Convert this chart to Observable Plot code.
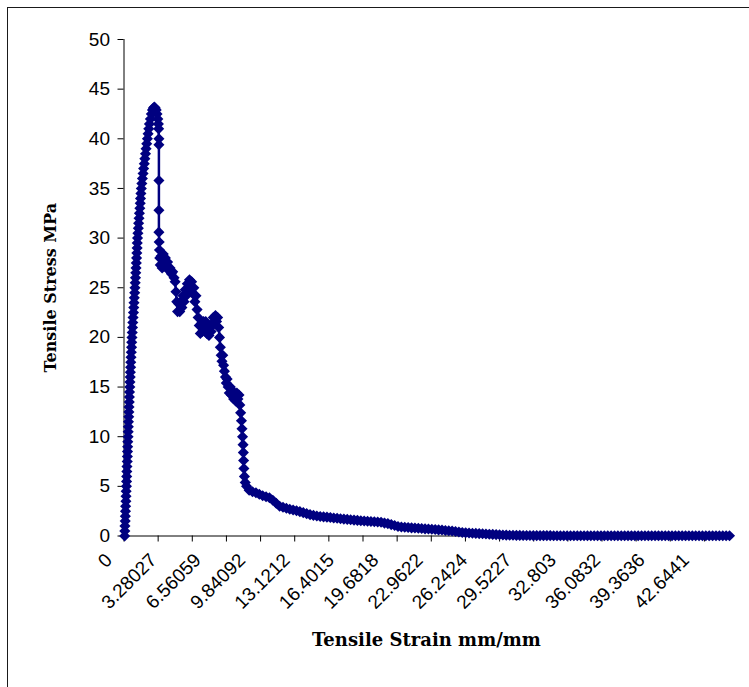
<!DOCTYPE html>
<html>
<head>
<meta charset="utf-8">
<script src="https://cdn.jsdelivr.net/npm/d3@7"></script>
<script src="https://cdn.jsdelivr.net/npm/@observablehq/plot@0.6"></script>
<style>
  html, body { margin: 0; padding: 0; background: #fff; }
  #wrap { position: relative; width: 749px; height: 687px; overflow: hidden; background: #fff; }
  #border { position: absolute; left: 7px; top: 7px; width: 900px; height: 900px; border: 1.5px solid #1a1a1a; box-sizing: border-box; }
  #wrap svg { position: absolute; left: 0; top: 0; }
</style>
</head>
<body>
<div id="wrap"><div id="border"></div></div>
<script>
// ---- data: [strain mm/mm, stress MPa] ----
const rise = [
  [0.05,0.0],[0.06,0.5],[0.07,1.0],[0.09,1.5],[0.10,2.0],[0.11,2.5],[0.12,3.0],[0.14,3.5],
  [0.15,4.0],[0.16,4.5],[0.18,5.0],[0.19,5.5],[0.20,6.0],[0.21,6.5],[0.22,7.0],[0.24,7.5],
  [0.25,8.0],[0.26,8.5],[0.27,9.0],[0.28,9.5],[0.30,10.0],[0.31,10.5],[0.32,11.0],[0.33,11.5],
  [0.35,12.0],[0.36,12.5],[0.37,13.0],[0.39,13.5],[0.40,14.0],[0.41,14.5],[0.43,15.0],[0.44,15.5],
  [0.46,16.0],[0.47,16.5],[0.49,17.0],[0.50,17.5],[0.52,18.0],[0.54,18.5],[0.56,19.0],[0.57,19.5],
  [0.59,20.0],[0.61,20.5],[0.63,21.0],[0.65,21.5],[0.67,22.0],[0.70,22.5],[0.72,23.0],[0.74,23.5],
  [0.76,24.0],[0.79,24.5],[0.81,25.0],[0.83,25.5],[0.85,26.0],[0.87,26.5],[0.89,27.0],[0.91,27.5],
  [0.93,28.0],[0.95,28.5],[0.97,29.0],[0.98,29.5],[1.00,30.0],[1.03,30.5],[1.06,31.0],[1.08,31.5],
  [1.11,32.0],[1.14,32.5],[1.17,33.0],[1.20,33.5],[1.22,34.0],[1.25,34.5],[1.28,35.0],[1.32,35.5],
  [1.36,36.0],[1.41,36.5],[1.45,37.0],[1.50,37.5],[1.54,38.0],[1.59,38.5],[1.63,39.0],[1.68,39.5],
  [1.73,40.0],[1.78,40.5],[1.83,41.0],[1.88,41.5],[1.95,42.0],[2.02,42.5],[2.10,42.9],[2.17,43.1],
  [2.24,43.2],[2.31,43.1],[2.38,42.9],[2.44,42.5],[2.50,42.0],[2.54,41.5],[2.56,41.0],[2.58,40.0],
  [2.58,39.4]
];
const softening = [
  [2.58,35.8],[2.58,32.8],[2.58,30.6],[2.60,29.6],[2.62,28.8],[2.64,28.0],[2.68,27.3],[2.75,28.2],
  [2.82,27.0],[2.90,28.4],[2.98,27.2],[3.06,28.0],[3.14,27.0],[3.22,27.6],[3.30,26.8],[3.40,27.0],
  [3.50,26.4],[3.60,26.6],[3.70,26.0],[3.78,25.6],[3.84,24.6],[3.90,23.6],[3.96,22.6],[4.04,23.4],
  [4.12,22.6],[4.20,23.6],[4.28,23.0],[4.36,24.2],[4.44,23.6],[4.52,24.8],[4.60,24.2],[4.68,25.4],
  [4.76,24.6],[4.84,25.8],[4.92,24.8],[5.00,25.6],[5.08,24.4],[5.16,25.0],[5.24,23.6],[5.32,24.2],
  [5.40,22.8],[5.48,22.0],[5.56,21.2],[5.64,20.4],[5.72,21.4],[5.80,20.6],[5.88,21.6],[5.96,20.8],
  [6.04,21.6],[6.12,20.4],[6.20,21.2],[6.28,20.2],[6.36,21.0],[6.44,20.6],[6.52,21.4],[6.60,22.0],
  [6.68,21.4],[6.76,22.2],[6.84,21.6],[6.92,22.0],[7.00,21.0],[7.06,20.0],[7.12,19.0],[7.18,18.2],
  [7.24,17.6],[7.30,18.2],[7.36,17.2],[7.42,16.6],[7.50,16.0],[7.56,15.4],[7.62,15.8],[7.70,15.0],
  [7.78,14.4],[7.86,15.0],[7.94,14.2],[8.02,14.6],[8.10,13.8],[8.18,14.4],[8.26,13.6],[8.34,14.4],
  [8.42,13.8],[8.50,14.2],[8.56,13.2],[8.62,12.4],[8.68,11.6],[8.72,10.8],[8.76,10.0],[8.80,9.2],
  [8.82,8.4],[8.84,7.6],[8.86,6.8],[8.90,6.0],[8.96,5.4],[9.06,5.0]
];
const tail = [
  [9.25,4.6],[9.5,4.45],[9.75,4.35],[10,4.2],[10.25,4.05],[10.5,3.95],[10.75,3.85],[11,3.6],
  [11.25,3.3],[11.5,3.0],[11.75,2.9],[12,2.8],[12.25,2.7],[12.5,2.62],[12.75,2.55],[13,2.45],
  [13.25,2.35],[13.5,2.25],[13.75,2.15],[14,2.08],[14.25,2.02],[14.5,1.97],[14.75,1.93],[15,1.9],
  [15.25,1.86],[15.5,1.82],[15.75,1.78],[16,1.74],[16.25,1.7],[16.5,1.67],[16.75,1.64],[17,1.6],
  [17.25,1.57],[17.5,1.54],[17.75,1.51],[18,1.48],[18.25,1.46],[18.5,1.43],[18.75,1.41],[19,1.38],
  [19.25,1.3],[19.5,1.25],[19.75,1.15],[20,1.05],[20.25,0.95],[20.5,0.9],[20.75,0.88],[21,0.85],
  [21.25,0.82],[21.5,0.8],[21.75,0.78],[22,0.75],[22.25,0.72],[22.5,0.7],[22.75,0.68],[23,0.65],
  [23.25,0.62],[23.5,0.6],[23.75,0.56],[24,0.53],[24.25,0.5],[24.5,0.45],[24.75,0.4],[25,0.36],
  [25.25,0.33],[25.5,0.3],[25.75,0.28],[26,0.26],[26.25,0.24],[26.5,0.22],[26.75,0.2],[27,0.18],
  [27.25,0.16],[27.5,0.14],[27.75,0.12],[28,0.1],[28.25,0.09],[28.5,0.08],[28.75,0.07],[29,0.06],
  [29.25,0.06],[29.5,0.05],[29.75,0.05],[30,0.05],[30.25,0.04],[30.5,0.04],[30.75,0.04],[31,0.04],
  [31.25,0.04],[31.5,0.04],[31.75,0.03],[32,0.03],[32.25,0.03],[32.5,0.03],[32.75,0.03],[33,0.03],
  [33.25,0.03],[33.5,0.03],[33.75,0.03],[34,0.03],[34.25,0.03],[34.5,0.03],[34.75,0.03],[35,0.03],
  [35.25,0.03],[35.5,0.03],[35.75,0.03],[36,0.03],[36.25,0.03],[36.5,0.03],[36.75,0.03],[37,0.03],
  [37.25,0.03],[37.5,0.03],[37.75,0.03],[38,0.03],[38.25,0.03],[38.5,0.03],[38.75,0.03],[39,0.03],
  [39.25,0.03],[39.5,0.03],[39.75,0.03],[40,0.03],[40.25,0.03],[40.5,0.03],[40.75,0.03],[41,0.03],
  [41.25,0.03],[41.5,0.03],[41.75,0.03],[42,0.03],[42.25,0.03],[42.5,0.03],[42.75,0.03],[43,0.03],
  [43.25,0.03],[43.5,0.03],[43.75,0.03],[44,0.03],[44.25,0.03],[44.5,0.03],[44.75,0.03]
];

// axis values
const yTicks = [0, 5, 10, 15, 20, 25, 30, 35, 40, 45, 50];
const xLabels = [0, 3.28027, 6.56059, 9.84092, 13.1212, 16.4015, 19.6818, 22.9622,
                 26.2424, 29.5227, 32.803, 36.0832, 39.3636, 42.6441];
const xTickMarks = [0, 2.5233, 5.0466, 7.5699, 10.0932, 12.6164, 15.1397, 17.663, 20.1863,
                    22.7096, 25.2329, 27.7562, 30.2795, 32.8028, 35.3261, 37.8494, 40.3726, 42.8959];
const xTitle = "Tensile Strain mm/mm";
const yTitle = "Tensile Stress MPa";

const data = [...rise, ...softening, ...tail].map(([strain, stress]) => ({strain, stress}));
const navy = "#000080";
const titleFont = "'DejaVu Serif', 'Liberation Serif', serif";

const chart = Plot.plot({
  width: 749,
  height: 687,
  marginTop: 39,
  marginBottom: 151.5,
  marginLeft: 123.5,
  marginRight: 16.6,
  style: {fontFamily: "'Liberation Sans', Arial, sans-serif", fontSize: "19px", color: "#000", background: "transparent", overflow: "visible"},
  x: {domain: [0, 45]},
  y: {domain: [0, 50]},
  marks: [
    Plot.axisY({ticks: yTicks, tickSize: 6, tickPadding: 8, fontSize: 19, label: null}),
    Plot.axisX({ticks: xTickMarks, tickSize: 6, tickFormat: () => "", label: null}),
    Plot.axisX({ticks: xLabels, tickSize: 0, tickPadding: 0, tickRotate: -45, tickFormat: d => String(d),
                fontSize: 19, label: null, dx: -15, dy: 21}),
    Plot.ruleX([0]),
    Plot.ruleY([0]),
    Plot.line(data, {x: "strain", y: "stress", stroke: navy, strokeWidth: 2.5}),
    Plot.dot(data, {x: "strain", y: "stress", symbol: "diamond2", r: 5, fill: navy, stroke: null}),
    Plot.text([yTitle], {text: d => d, frameAnchor: "left", textAnchor: "middle", rotate: -90, dx: -73.5,
                         fontSize: 16, fontWeight: "bold", fontFamily: titleFont, fill: "#000"}),
    Plot.text([xTitle], {text: d => d, frameAnchor: "bottom", textAnchor: "middle", dx: -2, dy: 109.5,
                         fontSize: 18, fontWeight: "bold", fontFamily: titleFont, fill: "#000"})
  ]
});
document.getElementById("wrap").appendChild(chart);
</script>
</body>
</html>
